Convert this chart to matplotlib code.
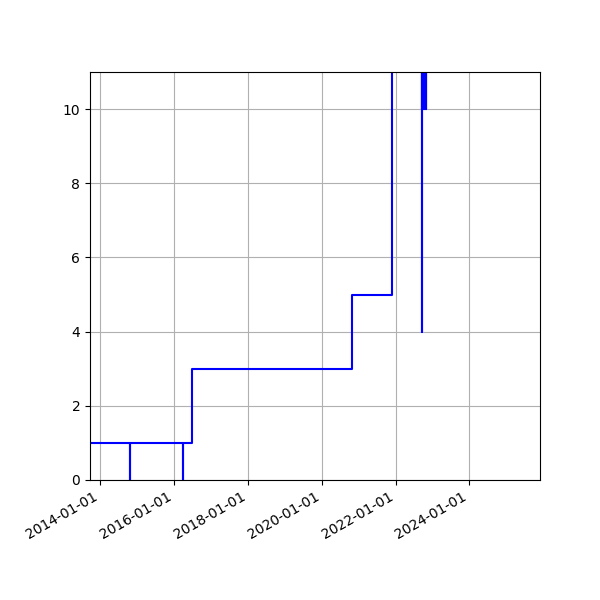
import datetime as dt
import matplotlib
matplotlib.use('Agg')
import matplotlib.pyplot as plt
import matplotlib.dates as mdates

# step data: (date, value), held until the next date
dates = ['2013-01-01', '2014-10-25', '2014-10-26', '2016-04-01', '2016-04-02',
         '2016-06-23', '2020-10-27', '2021-11-30', '2022-09-20', '2022-09-21',
         '2022-09-23', '2022-09-25', '2022-09-27', '2022-09-29', '2022-10-01',
         '2022-10-03', '2022-10-05', '2022-10-07', '2022-10-09', '2022-10-11',
         '2022-10-13', '2022-10-15', '2022-10-17', '2022-10-19', '2022-10-21',
         '2022-10-23', '2022-10-25', '2022-10-27', '2022-10-29', '2022-10-30']
values = [1, 0, 1, 0, 1,
          3, 5, 14, 4, 13,
          10, 12, 10, 15, 10,
          12, 10, 13, 10, 12,
          10, 14, 10, 12, 10,
          13, 10, 12, 10, 10]

xlim = ('2013-09-21', '2025-12-01')
ylim = (0, 11)


def run():
  x = [dt.datetime.strptime(d, '%Y-%m-%d') for d in dates]

  fig, ax = plt.subplots(figsize=(6, 6), dpi=100)
  ax.plot(x, values, color='blue', linewidth=1.5, drawstyle='steps-post')
  ax.set_xlim(dt.datetime.strptime(xlim[0], '%Y-%m-%d'),
              dt.datetime.strptime(xlim[1], '%Y-%m-%d'))
  ax.set_ylim(*ylim)
  ax.xaxis.set_major_locator(mdates.YearLocator(2))
  ax.xaxis.set_major_formatter(mdates.DateFormatter('%Y-%m-%d'))
  ax.grid(True)
  fig.autofmt_xdate()
  fig.subplots_adjust(left=0.15, right=0.9, top=0.88, bottom=0.2)
  fig.savefig('out.png', dpi=100)


if __name__ == '__main__':
  run()
